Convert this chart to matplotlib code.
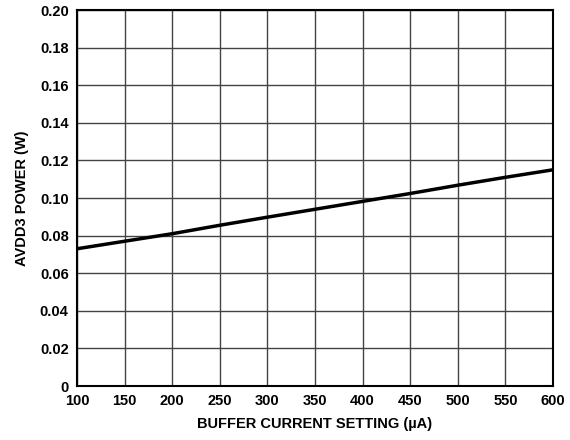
import matplotlib
matplotlib.use("Agg")
import matplotlib.pyplot as plt

plt.rcParams['font.family'] = ['Liberation Sans', 'DejaVu Sans']
plt.rcParams['font.weight'] = 'bold'

# buffer current (uA) vs AVDD3 power (W)
current = [100, 150, 200, 250, 300, 350, 400, 450, 500, 550, 600]
power = [0.073, 0.077, 0.081, 0.0855, 0.0898, 0.094, 0.0982, 0.1024, 0.1068, 0.111, 0.115]

xticks = [100, 150, 200, 250, 300, 350, 400, 450, 500, 550, 600]
yticks = [0, 0.02, 0.04, 0.06, 0.08, 0.10, 0.12, 0.14, 0.16, 0.18, 0.20]
ylabels = ['0', '0.02', '0.04', '0.06', '0.08', '0.10', '0.12', '0.14', '0.16', '0.18', '0.20']

fig = plt.figure(figsize=(5.7, 4.4), dpi=100)
ax = fig.add_axes([77 / 570, 54 / 440, 476 / 570, 376 / 440])

ax.plot(current, power, color='black', linewidth=2.5)

ax.set_xlim(100, 600)
ax.set_ylim(0, 0.20)
ax.set_xticks(xticks)
ax.set_yticks(yticks)
ax.set_yticklabels(ylabels)
ax.grid(True, color='#444444', linewidth=1.0)
ax.tick_params(length=0, labelsize=10.5, pad=6)
for s in ax.spines.values():
    s.set_linewidth(1.5)
    s.set_color('black')

ax.set_xlabel('BUFFER CURRENT SETTING (µA)', fontsize=10.5, fontweight='bold', labelpad=6)
ax.set_ylabel('AVDD3 POWER (W)', fontsize=10.5, fontweight='bold', labelpad=8)

fig.savefig('out.png', dpi=100)
